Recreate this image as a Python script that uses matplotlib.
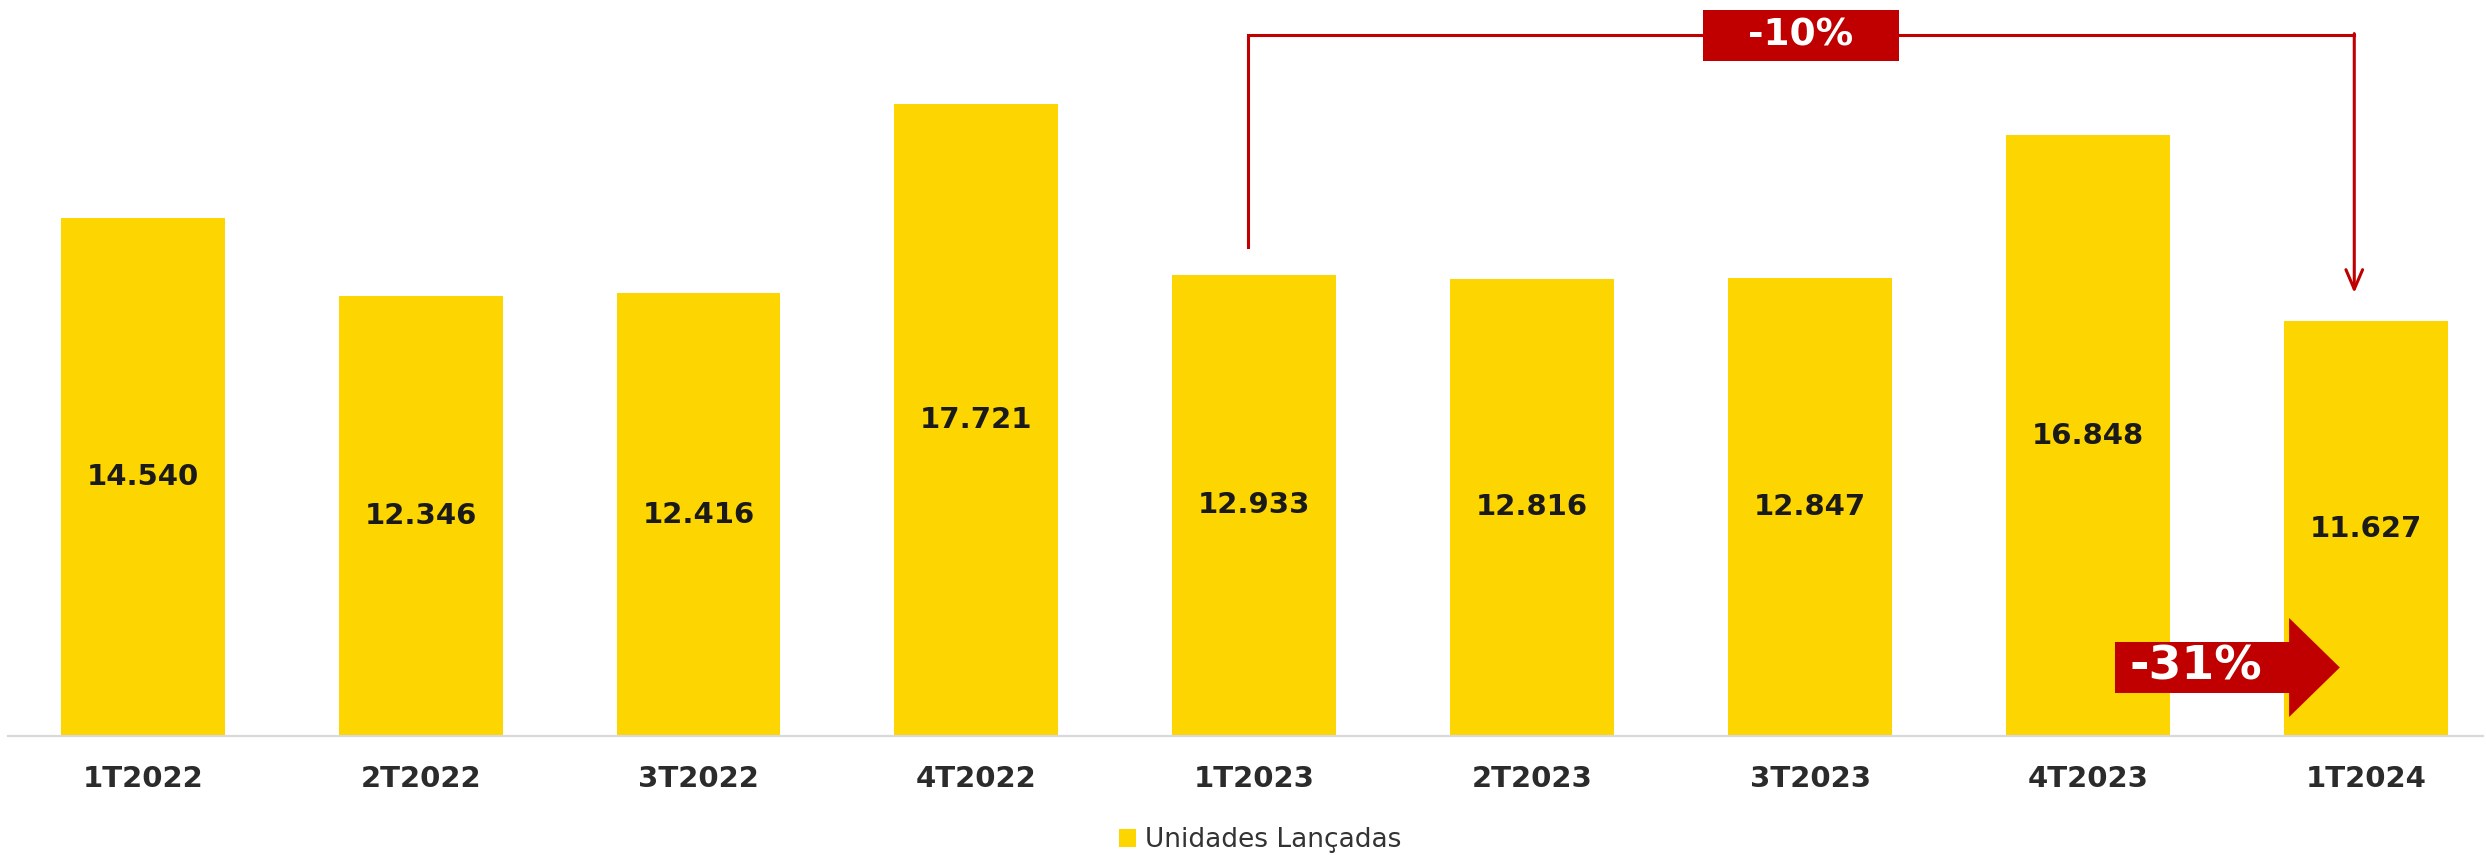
import matplotlib
matplotlib.use("Agg")
import matplotlib.pyplot as plt
from matplotlib.patches import FancyArrow, Rectangle
import numpy as np

# data
quarters = ["1T2022", "2T2022", "3T2022", "4T2022", "1T2023",
            "2T2023", "3T2023", "4T2023", "1T2024"]
unidades = [14540, 12346, 12416, 17721, 12933, 12816, 12847, 16848, 11627]
labels = ["14.540", "12.346", "12.416", "17.721", "12.933",
          "12.816", "12.847", "16.848", "11.627"]
var_anual = "-10%"     # 1T2023 -> 1T2024
var_tri = "-31%"       # 4T2023 -> 1T2024
serie = "Unidades Lançadas"

yellow = "#FDD500"
red = "#C00000"

fig = plt.figure(figsize=(24.86, 8.59), dpi=100)
ax = fig.add_axes([0, 0.1432, 1, 0.8568])

x = np.arange(len(quarters))
ax.bar(x, unidades, width=0.59, color=yellow, label=serie, zorder=2)

for xi, v, lab in zip(x, unidades, labels):
    ax.text(xi, v / 2, lab, ha="center", va="center", fontsize=21,
            fontweight="bold", color="#1a1a1a", zorder=3)

ax.set_xlim(-0.5135, 8.432)
ax.set_ylim(0, 20640)
ax.set_xticks(x)
ax.set_xticklabels(quarters, fontsize=21, fontweight="bold", color="#2b2b2b")
ax.tick_params(axis="x", length=0, pad=21)
ax.set_yticks([])
for s in ["top", "right", "left"]:
    ax.spines[s].set_visible(False)
ax.spines["bottom"].set_color("#d9d9d9")
ax.spines["bottom"].set_linewidth(1.6)
ax.spines["bottom"].set_bounds(-0.485, 8.42)

# bracket 1T2023 -> 1T2024
i0, i1 = 4, 8
x0, x1 = i0 - 0.024, i1 - 0.042
top = 19658
y0 = unidades[i0] + 780
y1 = unidades[i1] + 796
ax.plot([x0, x0, x1], [y0, top, top], color=red, lw=2.2,
        solid_joinstyle="miter", zorder=4)
ax.annotate("", xy=(x1, y1), xytext=(x1, top + 40),
            arrowprops=dict(arrowstyle="->,head_length=0.7,head_width=0.3",
                            color=red, lw=2.2, mutation_scale=20,
                            shrinkA=0, shrinkB=0), zorder=4)
bx = (x0 + x1) / 2
ax.add_patch(Rectangle((bx - 0.351, top - 715), 0.702, 1430,
                       facecolor=red, edgecolor="none", zorder=5,
                       clip_on=False))
ax.text(bx, top, var_anual, ha="center", va="center", color="white",
        fontsize=27, fontweight="bold", zorder=6,
        family=["Liberation Sans Narrow", "DejaVu Sans"])

# block arrow 4T2023 -> 1T2024
ay = 1921
ax.add_patch(FancyArrow(7.097, ay, 0.809, 0, width=1430, head_width=2776,
                        head_length=0.1825, length_includes_head=True,
                        facecolor=red, edgecolor="none", zorder=5))
ax.text(7.387, ay, var_tri, ha="center", va="center", color="white",
        fontsize=34, fontweight="bold", zorder=6)

fig.legend(loc="center", bbox_to_anchor=(0.507, 1 - 840 / 859),
           frameon=False, fontsize=19, handlelength=0.65, handleheight=0.65,
           handletextpad=0.35, labelcolor="#333333")

fig.savefig("out.png", dpi=100)
